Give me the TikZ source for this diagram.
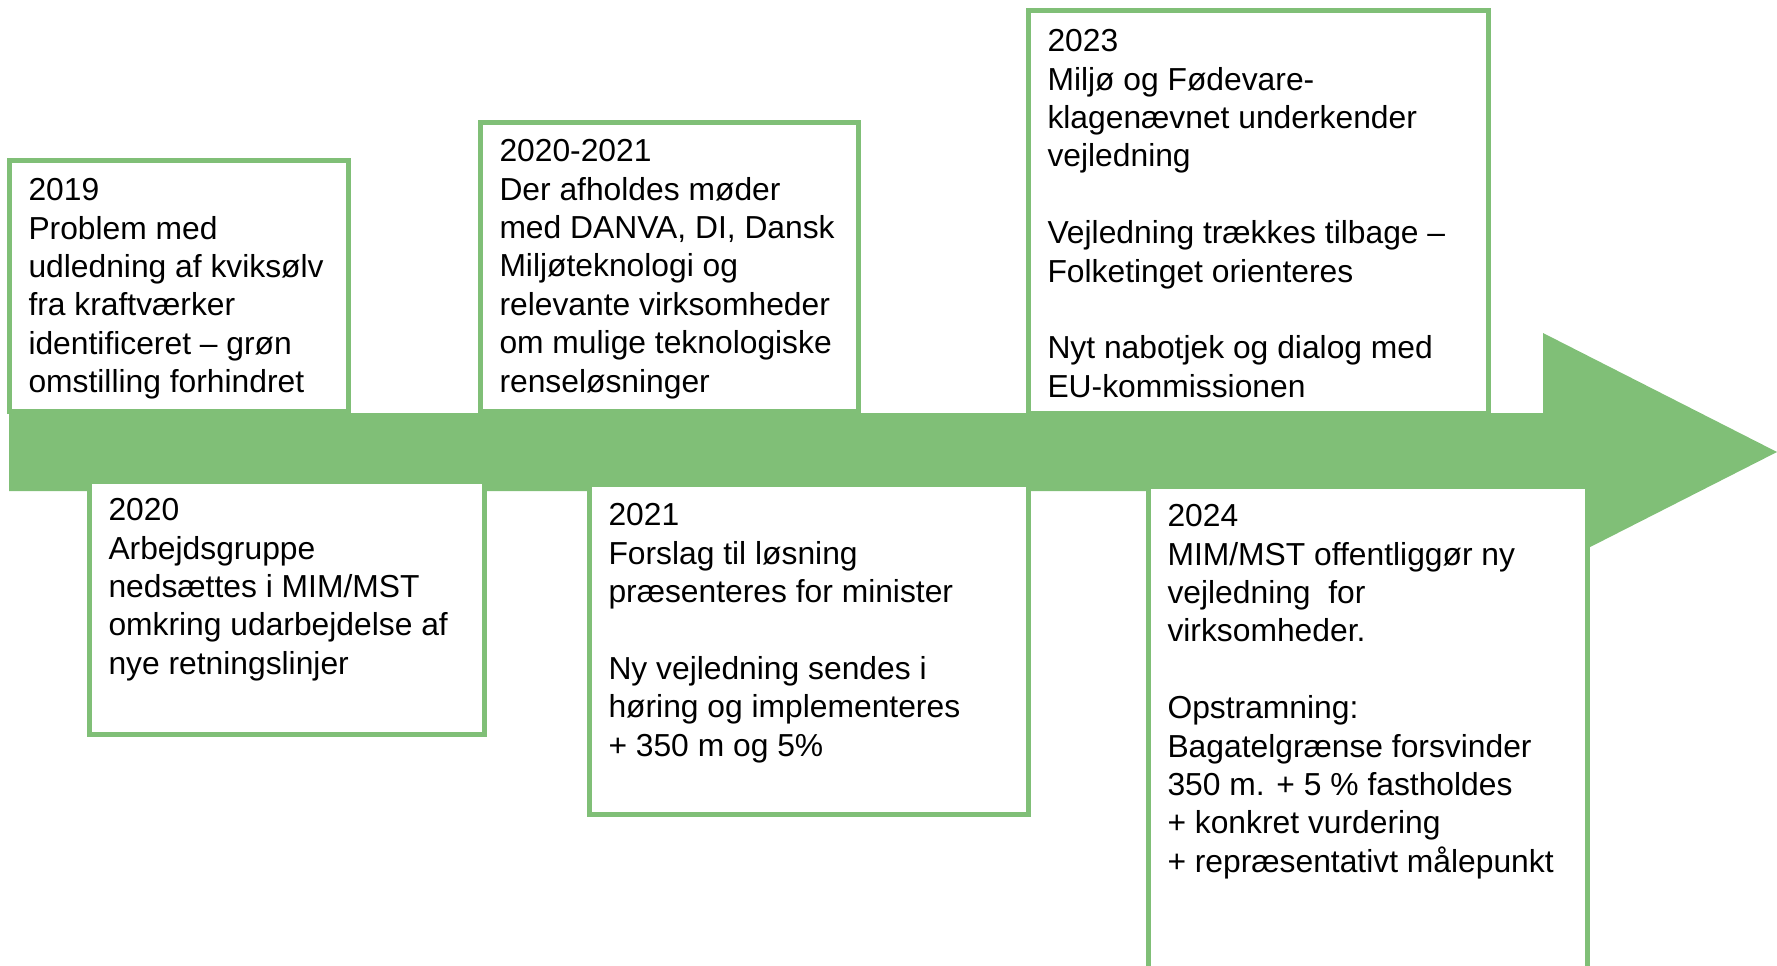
\documentclass[tikz,border=0pt]{standalone}
\usepackage{fontspec}
\setmainfont{Liberation Sans}
\definecolor{tlgreen}{RGB}{128,191,119}
\begin{document}
\begin{tikzpicture}[x=1pt,y=-1pt,
  evbox/.style={draw=tlgreen, line width=5pt, fill=white, rectangle, inner sep=0pt, outer sep=0pt, anchor=north west},
  evtext/.style={anchor=north west, align=left, inner sep=0pt, outer sep=0pt, font=\fontsize{31.8}{38.4}\selectfont, text=black}]
\useasboundingbox (0,0) rectangle (1777,966);
\clip (0,0) rectangle (1777,966);
% timeline arrow
\fill[tlgreen] (9,413) -- (1543,413) -- (1543,333) -- (1777,452) -- (1543,571) -- (1543,491) -- (9,491) -- cycle;
% boxes
\node[evbox, minimum width=339pt, minimum height=251pt] (b2019) at (9.5,160.5) {};
\node[evbox, minimum width=378pt, minimum height=289pt] (b2021a) at (480.5,122.5) {};
\node[evbox, minimum width=460pt, minimum height=403pt] (b2023) at (1028.5,10.5) {};
\node[evbox, minimum width=395pt, minimum height=253pt] (b2020) at (89.5,481.5) {};
\node[evbox, minimum width=439pt, minimum height=330pt] (b2021) at (589.5,484.5) {};
\node[evbox, minimum width=439pt, minimum height=523pt] (b2024) at (1148.5,486.5) {};
% texts
\node[evtext] (t2019) at ([shift={(19,18)}]b2019.north west) {2019\\Problem med\\udledning af kviksølv\\fra kraftværker\\identificeret – grøn\\omstilling forhindret};
\node[evtext] (t2021a) at ([shift={(19,17)}]b2021a.north west) {2020-2021\\Der afholdes møder\\med DANVA, DI, Dansk\\Miljøteknologi og\\relevante virksomheder\\om mulige teknologiske\\renseløsninger};
\node[evtext] (t2023) at ([shift={(19,19)}]b2023.north west) {2023\\Miljø og Fødevare-\\klagenævnet underkender\\vejledning\\[38.4pt]Vejledning trækkes tilbage –\\Folketinget orienteres\\[38.4pt]Nyt nabotjek og dialog med\\EU-kommissionen};
\node[evtext] (t2020) at ([shift={(19,17)}]b2020.north west) {2020\\Arbejdsgruppe\\nedsættes i MIM/MST\\omkring udarbejdelse af\\nye retningslinjer};
\node[evtext] (t2021) at ([shift={(19,19)}]b2021.north west) {2021\\Forslag til løsning\\præsenteres for minister\\[38.4pt]Ny vejledning sendes i\\høring og implementeres\\+ 350 m og 5\%};
\node[evtext] (t2024) at ([shift={(19,18)}]b2024.north west) {2024\\MIM/MST offentliggør ny\\vejledning\ \ for\\virksomheder.\\[38.4pt]Opstramning:\\Bagatelgrænse forsvinder\\350 m. + 5 \% fastholdes\\+ konkret vurdering\\+ repræsentativt målepunkt};
\end{tikzpicture}
\end{document}
